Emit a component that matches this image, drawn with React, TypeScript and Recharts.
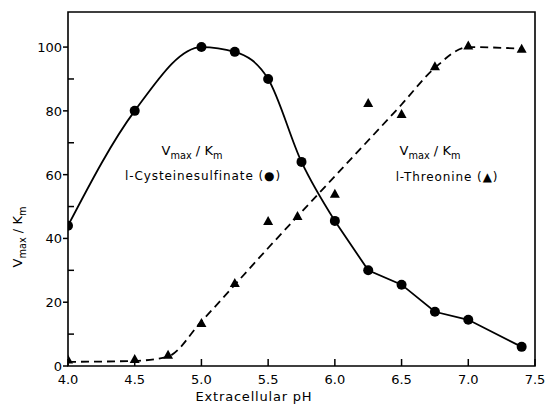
import { ComposedChart, Line, Scatter, XAxis, YAxis, ReferenceArea, Customized } from "recharts";

const circlePH = [4.0, 4.5, 5.0, 5.25, 5.5, 5.75, 6.0, 6.25, 6.5, 6.75, 7.0, 7.4];
const circleV = [44, 80, 100, 98.5, 90, 64, 45.5, 30, 25.5, 17, 14.5, 6];

const trianglePH = [4.0, 4.5, 4.75, 5.0, 5.25, 5.5, 5.72, 6.0, 6.25, 6.5, 6.75, 7.0, 7.4];
const triangleV = [2, 2.2, 3.5, 13.5, 26, 45.5, 47, 54, 82.5, 79, 94, 100.5, 99.5];

// dashed fitted curve for threonine
const fitPH = [4.0, 4.5, 4.75, 5.0, 5.5, 6.0, 6.5, 6.75, 7.0, 7.4];
const fitV = [1.3, 1.6, 3, 14, 37, 59.5, 82, 93.5, 100, 99.5];

const xTicks = [4.0, 4.5, 5.0, 5.5, 6.0, 6.5, 7.0, 7.5];
const yTicks = [0, 10, 20, 30, 40, 50, 60, 70, 80, 90, 100];

const circles = circlePH.map((ph, i) => ({ ph, v: circleV[i] }));
const triangles = trianglePH.map((ph, i) => ({ ph, v: triangleV[i] }));
const fit = fitPH.map((ph, i) => ({ ph, v: fitV[i] }));
// smooth part of the cysteinesulfinate curve up to pH 6, straight segments after
const circlesSmooth = circles.filter((d) => d.ph <= 6.0);
const circlesTail = circles.filter((d) => d.ph >= 6.0);

const FONT = "'DejaVu Sans', sans-serif";

const XTick = ({ x, y, payload }: any) => (
  <g>
    <line x1={x} y1={y} x2={x} y2={y - 7} stroke="#000" strokeWidth={1.5} />
    <text x={x} y={y + 18} textAnchor="middle" fontSize={13} fontFamily={FONT} fill="#000">
      {payload.value.toFixed(1)}
    </text>
  </g>
);

const YTick = ({ x, y, payload }: any) => {
  const major = payload.value % 20 === 0;
  if (!major) return <line x1={x} y1={y} x2={x + 6} y2={y} stroke="#000" strokeWidth={1.5} />;
  return (
    <g>
      <line x1={x - 5} y1={y} x2={x} y2={y} stroke="#000" strokeWidth={1.5} />
      <text x={x - 6} y={y + 5} textAnchor="end" fontSize={13} fontFamily={FONT} fill="#000">
        {payload.value}
      </text>
    </g>
  );
};

const Dot = (props: any) => <circle cx={props.cx} cy={props.cy} r={5} fill="#000" />;

const Tri = (props: any) => {
  const { cx, cy } = props;
  return <polygon points={`${cx},${cy - 5} ${cx - 5},${cy + 4} ${cx + 5},${cy + 4}`} fill="#000" />;
};

const Ratio = ({ x, y, size = 13 }: { x: number; y: number; size?: number }) => (
  <text x={x} y={y} textAnchor="middle" fontSize={size} fontFamily={FONT} fill="#000">
    <tspan>V</tspan>
    <tspan fontSize={size * 0.75} dy={4}>max</tspan>
    <tspan dy={-4}> / K</tspan>
    <tspan fontSize={size * 0.75} dy={4}>m</tspan>
  </text>
);

const Annotations = () => (
  <g>
    <Ratio x={192} y={155} />
    <text x={203} y={180} textAnchor="middle" fontSize={12} fontFamily={FONT} letterSpacing={0.9} fill="#000">
      l-Cysteinesulfinate (●)
    </text>
    <Ratio x={430} y={155} />
    <text x={447} y={181} textAnchor="middle" fontSize={12} fontFamily={FONT} letterSpacing={0.9} fill="#000">
      l-Threonine (▲)
    </text>
    <g transform="rotate(-90, 18, 237)">
      <Ratio x={18} y={241} />
    </g>
    <text x={254} y={401} textAnchor="middle" fontSize={13} fontFamily={FONT} letterSpacing={0.8} fill="#000">
      Extracellular pH
    </text>
  </g>
);

export default function App() {
  return (
    <div style={{ background: "#fff", width: 548, height: 406 }}>
      <style>{`body{margin:0}`}</style>
      <ComposedChart width={548} height={406} margin={{ top: 12, right: 13, left: 0, bottom: 0 }}>
        <XAxis
          type="number"
          dataKey="ph"
          domain={[4, 7.5]}
          ticks={xTicks}
          allowDataOverflow
          axisLine={false}
          tickLine={false}
          tickSize={0}
          tickMargin={0}
          tick={<XTick />}
          height={40}
        />
        <YAxis
          type="number"
          domain={[0, 111]}
          ticks={yTicks}
          allowDataOverflow
          axisLine={false}
          tickLine={false}
          tickSize={0}
          tickMargin={0}
          tick={<YTick />}
          width={68}
        />
        <ReferenceArea x1={4} x2={7.5} y1={0} y2={111} fill="none" stroke="#000" strokeWidth={1.6} />
        <Line
          data={circlesSmooth}
          dataKey="v"
          type="monotone"
          stroke="#000"
          strokeWidth={1.8}
          dot={false}
          activeDot={false}
          isAnimationActive={false}
        />
        <Line
          data={circlesTail}
          dataKey="v"
          type="linear"
          stroke="#000"
          strokeWidth={1.8}
          dot={false}
          activeDot={false}
          isAnimationActive={false}
        />
        <Line
          data={fit}
          dataKey="v"
          type="monotone"
          stroke="#000"
          strokeWidth={1.8}
          strokeDasharray="8 5"
          dot={false}
          activeDot={false}
          isAnimationActive={false}
        />
        <Scatter data={circles} dataKey="v" shape={<Dot />} isAnimationActive={false} />
        <Scatter data={triangles} dataKey="v" shape={<Tri />} isAnimationActive={false} />
        <Customized component={<Annotations />} />
      </ComposedChart>
    </div>
  );
}
